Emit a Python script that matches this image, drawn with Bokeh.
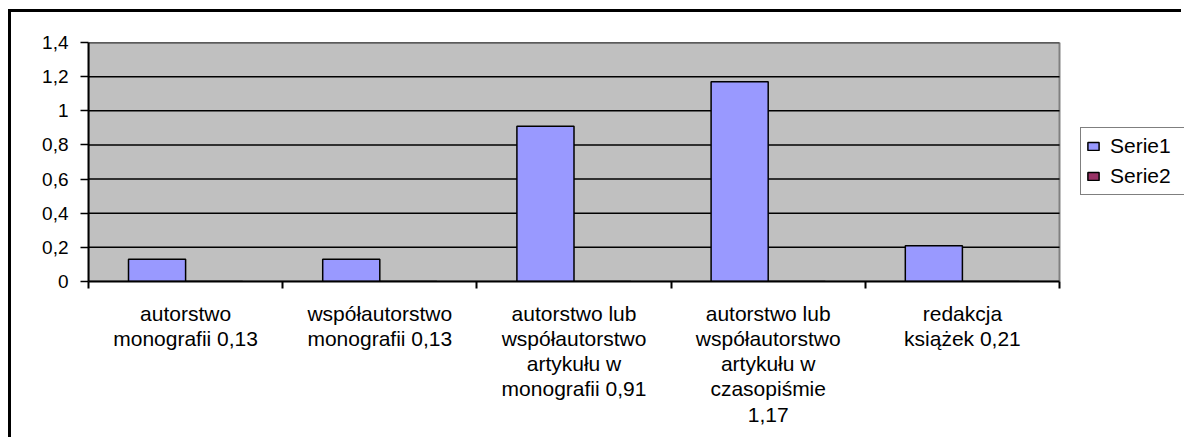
import numpy as np
from bokeh.plotting import figure
from bokeh.layouts import column
from bokeh.models import (ColumnDataSource, FixedTicker, CustomJSTickFormatter,
                          Range1d, Legend, LegendItem, BoxAnnotation)
from bokeh.transform import dodge
from bokeh.embed import file_html
from bokeh.resources import INLINE

categories = [
    "autorstwo monografii 0,13",
    "współautorstwo monografii 0,13",
    "autorstwo lub współautorstwo artykułu w monografii 0,91",
    "autorstwo lub współautorstwo artykułu w czasopiśmie 1,17",
    "redakcja książek 0,21",
]
tick_labels = [
    "autorstwo\nmonografii 0,13",
    "współautorstwo\nmonografii 0,13",
    "autorstwo lub\nwspółautorstwo\nartykułu w\nmonografii 0,91",
    "autorstwo lub\nwspółautorstwo\nartykułu w\nczasopiśmie\n1,17",
    "redakcja\nksiążek 0,21",
]
serie1 = [0.13, 0.13, 0.91, 1.17, 0.21]
serie2 = [0, 0, 0, 0, 0]
y_ticks = [0, 0.2, 0.4, 0.6, 0.8, 1.0, 1.2, 1.4]

FONT = "Liberation Sans"
n = len(categories)
pos = np.arange(n) + 0.5
src = ColumnDataSource(dict(x=pos, cat=categories, s1=serie1, s2=serie2))

W, H = 1173, 428
LEFT, TOP, BOTTOM = 77, 30, 159
PLOT_W = 971                      # width of the grey plot area in px
frame_w = W - LEFT                # frame runs to the right edge (legend lives there)
x_end = n * frame_w / PLOT_W

p = figure(width=W, height=H, x_range=Range1d(0, x_end), y_range=Range1d(0, 1.4),
           output_backend="svg", toolbar_location=None,
           min_border_left=LEFT, min_border_top=TOP, min_border_right=0,
           min_border_bottom=BOTTOM)
p.styles = {"border-left": "3px solid black", "border-top": "3px solid black"}

p.background_fill_color = "white"
p.border_fill_color = "white"
p.outline_line_color = None

# grey plot area
p.add_layout(BoxAnnotation(left=0, right=n, bottom=0, top=1.4,
                           fill_color="#C0C0C0", fill_alpha=1,
                           line_color="#808080", line_alpha=1, line_width=2,
                           line_dash="solid", level="underlay"))

# horizontal grid lines limited to the plot area
p.xgrid.visible = False
p.ygrid.visible = False
p.segment(x0=0, x1=n, y0=y_ticks[1:], y1=y_ticks[1:], line_color="black",
          line_width=1.5)

bw = 0.294
r1 = p.vbar(x=dodge("x", -bw / 2, range=p.x_range), top="s1", width=bw, source=src,
            fill_color="#9999FF", line_color="black", line_width=1.5)
r2 = p.vbar(x=dodge("x", bw / 2, range=p.x_range), top="s2", width=bw, source=src,
            fill_color="#993366", line_color="black", line_width=1.5)

# y axis
ya = p.yaxis[0]
ya.ticker = FixedTicker(ticks=y_ticks)
ya.formatter = CustomJSTickFormatter(
    code="return tick.toFixed(1).replace('.0','').replace('.',',')")
ya.axis_line_color = "black"
ya.axis_line_width = 2
ya.major_tick_out = 8
ya.major_tick_in = 0
ya.major_tick_line_width = 1.5
ya.minor_tick_line_color = None
ya.major_label_text_font = FONT
ya.major_label_text_font_size = "19px"
ya.major_label_text_color = "black"
ya.major_label_standoff = 12

# x axis
xa = p.xaxis[0]
xa.bounds = (0, n)
xa.ticker = FixedTicker(ticks=list(pos), minor_ticks=list(range(n + 1)))
xa.formatter = CustomJSTickFormatter(args=dict(labels=tick_labels),
                                     code="return labels[Math.floor(tick)]")
xa.axis_line_color = "black"
xa.axis_line_width = 2
xa.major_tick_out = 0
xa.major_tick_in = 0
xa.minor_tick_out = 7
xa.minor_tick_in = 0
xa.minor_tick_line_color = "black"
xa.minor_tick_line_width = 2
xa.major_label_text_font = FONT
xa.major_label_text_font_size = "21px"
xa.major_label_text_color = "black"
xa.major_label_text_line_height = 1.10
xa.major_label_standoff = 13

legend = Legend(items=[LegendItem(label="Serie1", renderers=[r1]),
                       LegendItem(label="Serie2", renderers=[r2])],
                location=(PLOT_W + 21, 86), orientation="vertical")
legend.border_line_color = "black"
legend.border_line_width = 1.5
legend.background_fill_color = "white"
legend.background_fill_alpha = 1
legend.label_text_font = FONT
legend.label_text_font_size = "21px"
legend.label_text_color = "black"
legend.glyph_width = 14
legend.glyph_height = 10
legend.label_standoff = 10
legend.label_height = 26
legend.label_width = 90
legend.spacing = 4
legend.padding = 5
legend.margin = 0
p.add_layout(legend, "center")

page = column(p, styles={"padding-left": "8px", "padding-top": "9px"})

open("out.html", "w").write(file_html(page, INLINE))
